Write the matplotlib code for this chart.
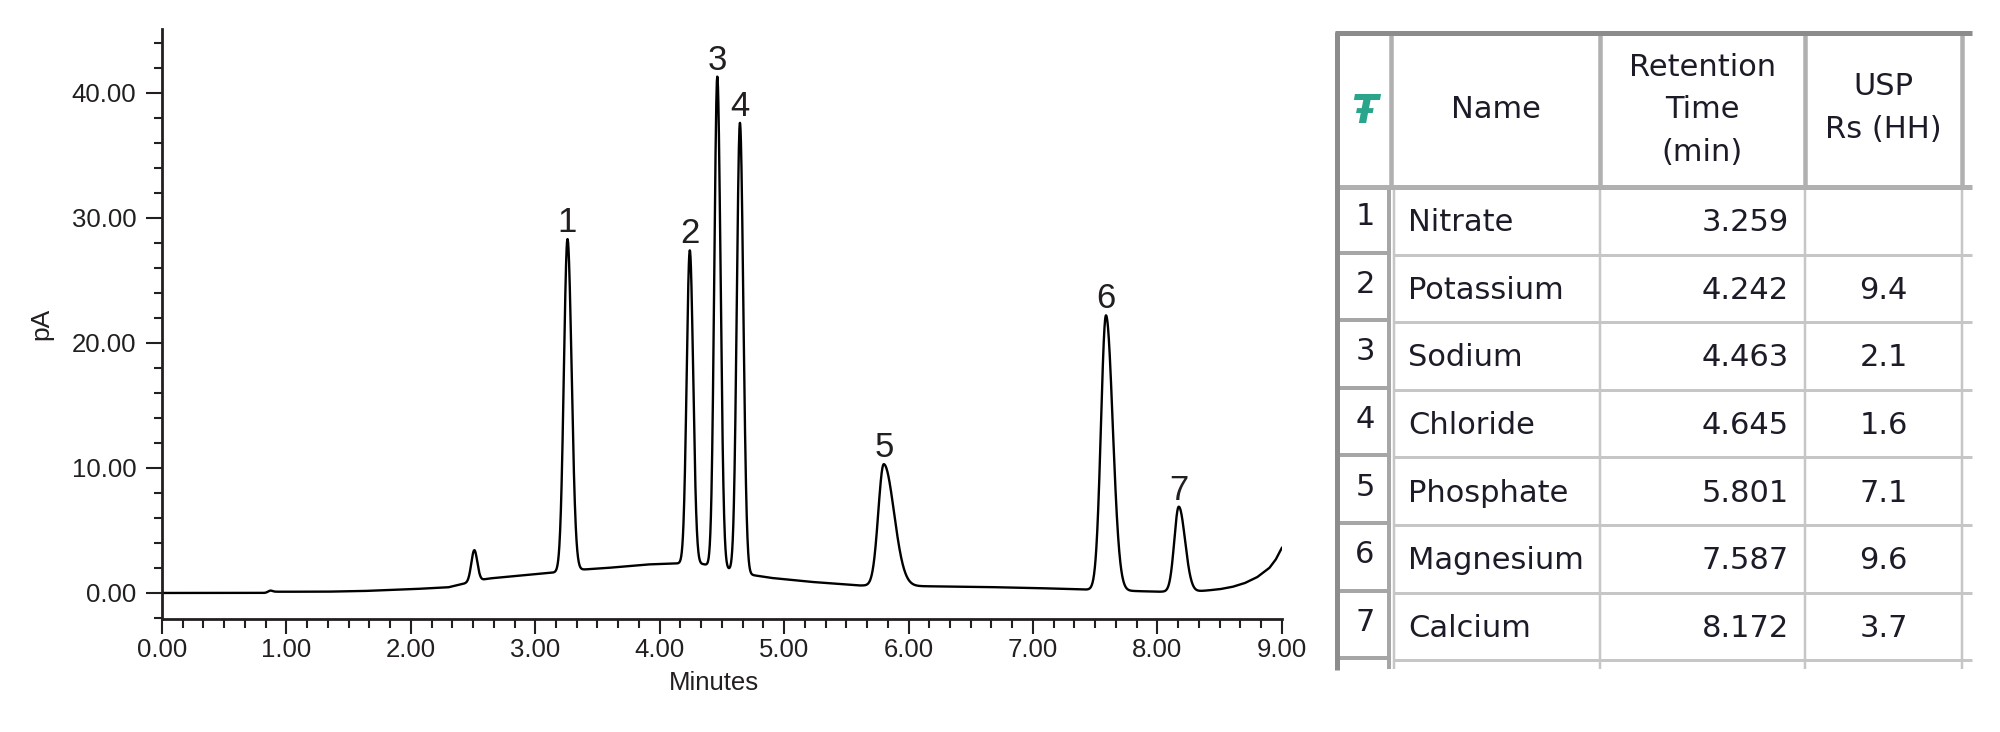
import matplotlib
matplotlib.use("Agg")
import matplotlib.pyplot as plt
from matplotlib.ticker import MultipleLocator, FormatStrFormatter
import numpy as np

# ── data ──────────────────────────────────────────────────────────────────────
peak_num = ["1", "2", "3", "4", "5", "6", "7"]
peak_name = ["Nitrate", "Potassium", "Sodium", "Chloride", "Phosphate", "Magnesium", "Calcium"]
peak_rt = [3.259, 4.242, 4.463, 4.645, 5.801, 7.587, 8.172]
peak_rs = ["", "9.4", "2.1", "1.6", "7.1", "9.6", "3.7"]
peak_apex = [28.3, 27.4, 41.3, 37.6, 10.3, 22.2, 6.9]          # pA at apex
peak_sig_l = [0.029, 0.025, 0.024, 0.025, 0.044, 0.040, 0.036]  # min, front
peak_sig_r = [0.033, 0.027, 0.026, 0.027, 0.082, 0.054, 0.050]  # min, tail

# small unlabelled peaks
minor_rt = [0.87, 2.51]
minor_amp = [0.15, 2.5]
minor_sig = [0.02, 0.024]

# baseline drift (min, pA)
base_t = [0.0, 0.84, 0.92, 1.3, 1.6, 2.0, 2.3, 2.45, 2.62, 3.0, 3.2, 3.35, 3.6,
          3.9, 4.2, 4.35, 4.5, 4.7, 4.9, 5.2, 5.6, 6.0, 6.5, 7.0, 7.5, 8.0,
          8.3, 8.4, 8.5, 8.6, 8.7, 8.8, 8.9, 8.95, 9.0]
base_y = [0.0, 0.0, 0.1, 0.1, 0.15, 0.3, 0.45, 0.8, 1.15, 1.5, 1.68, 1.85, 2.02,
          2.28, 2.38, 2.3, 2.0, 1.5, 1.2, 0.9, 0.6, 0.55, 0.5, 0.4, 0.25, 0.1,
          0.12, 0.2, 0.3, 0.48, 0.78, 1.25, 2.0, 2.65, 3.6]

INK = "#231f20"
TXT = "#1c1c28"
CHART_FONT = "Liberation Sans"
TABLE_FONT = "DejaVu Sans"

# ── build trace ───────────────────────────────────────────────────────────────
t = np.linspace(0, 9, 6001)
signal = np.interp(t, base_t, base_y)
for rt, amp, s in zip(minor_rt, minor_amp, minor_sig):
    signal += amp * np.exp(-0.5 * ((t - rt) / s) ** 2)
for rt, apex, sl, sr in zip(peak_rt, peak_apex, peak_sig_l, peak_sig_r):
    amp = apex - np.interp(rt, base_t, base_y)
    s = np.where(t < rt, sl, sr)
    signal += amp * np.exp(-0.5 * ((t - rt) / s) ** 2)

# ── figure ────────────────────────────────────────────────────────────────────
fig = plt.figure(figsize=(20, 7.32), dpi=100, facecolor="white")
ax = fig.add_axes([0.081, 0.1544, 0.5599, 0.806])

ax.plot(t, signal, color="black", lw=1.7)

for num, rt, apex in zip(peak_num, peak_rt, peak_apex):
    ax.annotate(num, xy=(rt, apex), xytext=(0, 5), textcoords="offset points",
                ha="center", va="baseline", fontsize=25, color=INK,
                family=CHART_FONT)

ax.set_xlim(0, 9)
ax.set_ylim(-2.08, 45.1)
ax.spines["top"].set_visible(False)
ax.spines["right"].set_visible(False)
for s in ("left", "bottom"):
    ax.spines[s].set_color(INK)
    ax.spines[s].set_linewidth(2)

ax.xaxis.set_major_locator(MultipleLocator(1))
ax.xaxis.set_minor_locator(MultipleLocator(1 / 6))
ax.yaxis.set_major_locator(MultipleLocator(10))
ax.yaxis.set_minor_locator(MultipleLocator(2))
ax.xaxis.set_major_formatter(FormatStrFormatter("%.2f"))
ax.yaxis.set_major_formatter(FormatStrFormatter("%.2f"))

ax.tick_params(axis="x", which="major", length=10.5, width=1.5, color=INK, pad=3)
ax.tick_params(axis="x", which="minor", length=6.5, width=1.5, color=INK)
ax.tick_params(axis="y", which="major", length=11.5, width=1.5, color=INK, pad=7)
ax.tick_params(axis="y", which="minor", length=6, width=1.5, color=INK)
for lab in ax.get_xticklabels() + ax.get_yticklabels():
    lab.set_fontsize(18.5)
    lab.set_family(CHART_FONT)
    lab.set_color(INK)

ax.set_xlabel("Minutes", fontsize=18.5, family=CHART_FONT, color=INK)
ax.xaxis.set_label_coords(0.493, -0.088)
ax.set_ylabel("pA", fontsize=19, family=CHART_FONT, color=INK)
ax.yaxis.set_label_coords(-0.108, 0.5)
ax.yaxis.label.set_va("center")

# ── results table ─────────────────────────────────────────────────────────────
tax = fig.add_axes([1330 / 2000, 0, 670 / 2000, 1])
tax.set_xlim(1330, 2000)
tax.set_ylim(732, 0)
tax.axis("off")

PX = 0.72  # points per pixel at dpi 100
left, top, head_b, row_h = 1337, 32, 187, 67.6
cols = [1337, 1391, 1600, 1805, 1962]
right_end = 1972
bottom = head_b + 7 * row_h

# body grid
for k in range(1, 8):
    y = head_b + k * row_h
    tax.plot([cols[1] + 2, right_end], [y, y], color="#c6c6c6", lw=3 * PX,
             solid_capstyle="butt")
for x in cols[2:]:
    tax.plot([x, x], [head_b, bottom + 9], color="#c6c6c6", lw=2.5 * PX,
             solid_capstyle="butt")
tax.plot([cols[1] + 3, cols[1] + 3], [head_b, bottom + 9], color="#c6c6c6",
         lw=2.5 * PX, solid_capstyle="butt")

# row number cells (raised look)
for k in range(7):
    y0 = head_b + k * row_h
    tax.plot([left, cols[1] - 2], [y0 + row_h - 2, y0 + row_h - 2],
             color="#a6a6a6", lw=4 * PX, solid_capstyle="butt")
    tax.plot([cols[1] - 2, cols[1] - 2], [y0, y0 + row_h], color="#a6a6a6",
             lw=4 * PX, solid_capstyle="butt")
tax.plot([cols[1] - 2, cols[1] - 2], [bottom, bottom + 9], color="#a6a6a6",
         lw=4 * PX, solid_capstyle="butt")

# header grid
for x in cols[1:]:
    tax.plot([x, x], [top, head_b], color="#b0b0b0", lw=4.5 * PX,
             solid_capstyle="butt")
tax.plot([left, right_end], [head_b, head_b], color="#b0b0b0", lw=5 * PX,
         solid_capstyle="butt")

# outer border
tax.plot([left - 2, right_end], [top + 1, top + 1], color="#8c8c8c", lw=5 * PX,
         solid_capstyle="butt")
tax.plot([left, left], [top, bottom + 10], color="#8c8c8c", lw=5 * PX,
         solid_capstyle="butt")

# header text
tfs = 22
tax.text((cols[0] + cols[1]) / 2, 112, "Ŧ", ha="center", va="center",
         fontsize=28, color="#2aa58c", fontweight="bold", style="italic",
         family=TABLE_FONT)
tax.text((cols[1] + cols[2]) / 2, 110, "Name", ha="center", va="center",
         fontsize=tfs, color=TXT, family=TABLE_FONT)
tax.text((cols[2] + cols[3]) / 2, 110, "Retention\nTime\n(min)", ha="center",
         va="center", fontsize=tfs, color=TXT, family=TABLE_FONT,
         linespacing=1.6)
tax.text((cols[3] + cols[4]) / 2, 108, "USP\nRs (HH)", ha="center",
         va="center", fontsize=tfs, color=TXT, family=TABLE_FONT,
         linespacing=1.6)

# body text
for k, (num, name, rt, rs) in enumerate(zip(peak_num, peak_name, peak_rt, peak_rs)):
    yc = head_b + (k + 0.5) * row_h
    tax.text((cols[0] + cols[1]) / 2 + 1, yc - 4, num, ha="center", va="center",
             fontsize=tfs, color=TXT, family=TABLE_FONT)
    tax.text(1408, yc + 2, name, ha="left", va="center", fontsize=tfs,
             color=TXT, family=TABLE_FONT)
    tax.text(1789, yc + 2, f"{rt:.3f}", ha="right", va="center", fontsize=tfs,
             color=TXT, family=TABLE_FONT)
    tax.text((cols[3] + cols[4]) / 2, yc + 2, rs, ha="center", va="center",
             fontsize=tfs, color=TXT, family=TABLE_FONT)

fig.savefig("out.png", dpi=100, facecolor="white")
